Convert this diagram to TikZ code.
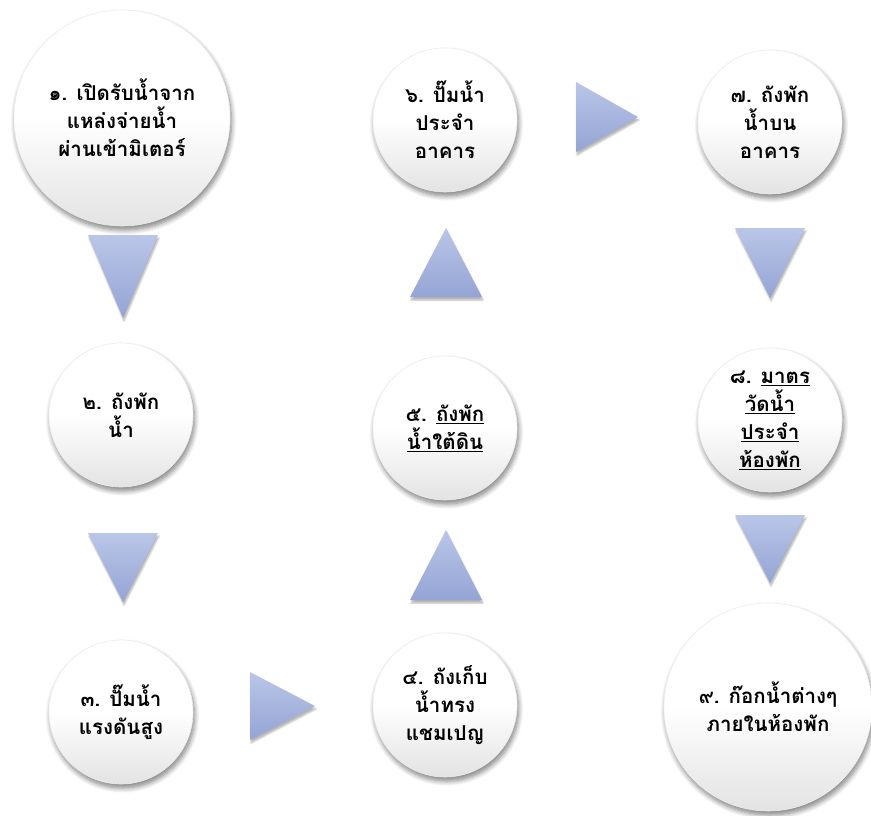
\documentclass[tikz,border=0pt]{standalone}
\usepackage{fontspec}
\newfontfamily\thaifont[Script=Thai]{Loma}
\usetikzlibrary{shadows.blur}
\definecolor{tritop}{RGB}{186,198,232}
\definecolor{tribot}{RGB}{148,164,212}
\tikzset{
  circ/.style={circle, draw=black!7, line width=0.6pt, top color=white, bottom color=black!11, middle color=white,
    blur shadow={shadow xshift=1.5pt, shadow yshift=-4pt, shadow blur radius=5pt, shadow blur steps=8, shadow opacity=50},
    align=center, font=\thaifont\bfseries\fontsize{20.5}{28}\selectfont, inner sep=0pt},
  tri/.style={draw=none, top color=tritop, bottom color=tribot,
    blur shadow={shadow xshift=1pt, shadow yshift=-3pt, shadow blur steps=5, shadow opacity=30}}
}
\begin{document}
\begin{tikzpicture}[x=1pt,y=-1pt]
\useasboundingbox (0,0) rectangle (871,816);
% circles
\node[circ, minimum size=216pt] (n1) at (122,118) {๑. เปิดรับน้ำจาก\\แหล่งจ่ายน้ำ\\ผ่านเข้ามิเตอร์};
\node[circ, minimum size=144pt] (n2) at (121,415) {๒. ถังพัก\\น้ำ};
\node[circ, minimum size=144pt] (n3) at (121,712) {๓. ปั๊มน้ำ\\แรงดันสูง};
\node[circ, minimum size=144pt] (n4) at (445,705) {๔. ถังเก็บ\\น้ำทรง\\แชมเปญ};
\node[circ, minimum size=144pt] (n5) at (445,428) {๕. \underline{ถังพัก}\\\underline{น้ำใต้ดิน}};
\node[circ, minimum size=144pt] (n6) at (445,120) {๖. ปั๊มน้ำ\\ประจำ\\อาคาร};
\node[circ, minimum size=144pt] (n7) at (770,122) {๗. ถังพัก\\น้ำบน\\อาคาร};
\node[circ, minimum size=144pt] (n8) at (770,420) {๘. \underline{มาตร}\\\underline{วัดน้ำ}\\\underline{ประจำ}\\\underline{ห้องพัก}};
\node[circ, minimum size=208pt] (n9) at (768,707) {๙. ก๊อกน้ำต่างๆ\\ภายในห้องพัก};
% triangles
\path[tri] (88,235) -- (158,235) -- (123,318) -- cycle;
\path[tri] (88,533) -- (158,533) -- (123,602) -- cycle;
\path[tri] (250,672) -- (315,706) -- (250,740) -- cycle;
\path[tri] (410,600) -- (446,530) -- (482,600) -- cycle;
\path[tri] (410,297) -- (446,228) -- (482,297) -- cycle;
\path[tri] (576,82) -- (638,117) -- (576,152) -- cycle;
\path[tri] (735,228) -- (805,228) -- (770,298) -- cycle;
\path[tri] (735,515) -- (805,515) -- (770,583) -- cycle;
\end{tikzpicture}
\end{document}
